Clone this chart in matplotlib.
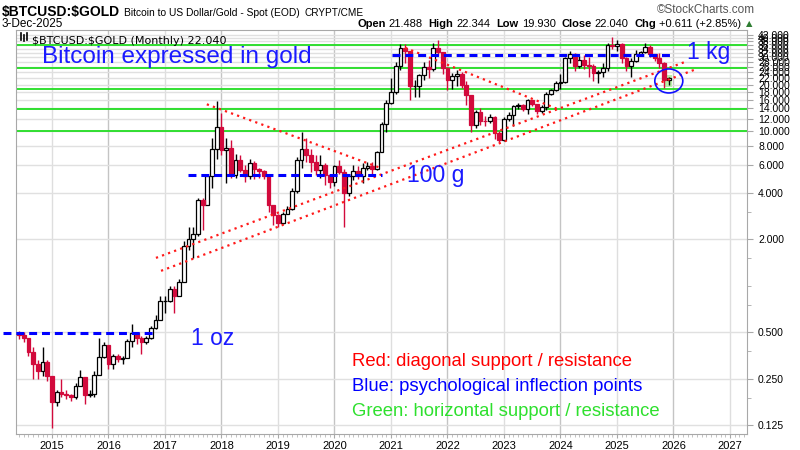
import matplotlib
matplotlib.use("Agg")
import matplotlib.pyplot as plt
import matplotlib.patches as mpatches
import matplotlib.transforms as mtransforms
import matplotlib.ticker as mticker
import numpy as np

plt.rcParams['font.family'] = ['Liberation Sans', 'DejaVu Sans']
plt.rcParams['text.parse_math'] = False  # the "$" in ticker names is literal

# monthly candles of BTC priced in ounces of gold, Jun 2014 .. Dec 2025
first_month = (2014, 6)
first_open = 0.485
close = [0.475, 0.455, 0.37, 0.31, 0.28, 0.32, 0.26,                            # 2014
         0.175, 0.205, 0.20, 0.195, 0.19, 0.225, 0.255, 0.195, 0.20, 0.265, 0.345, 0.41,  # 2015
         0.31, 0.35, 0.335, 0.34, 0.44, 0.49, 0.46, 0.43, 0.46, 0.53, 0.60, 0.80,   # 2016
         0.80, 0.95, 0.86, 1.06, 1.80, 2.0, 2.16, 3.58, 3.30, 5.1, 7.7, 10.6,       # 2017
         7.5, 7.8, 5.2, 6.5, 5.6, 5.1, 6.2, 5.7, 5.5, 5.1, 3.3, 2.87,               # 2018
         2.55, 2.9, 3.15, 4.1, 6.5, 7.6, 7.0, 6.3, 5.6, 6.0, 5.2, 4.7,              # 2019
         5.9, 5.4, 4.0, 5.1, 5.5, 5.1, 5.75, 5.9, 5.7, 7.3, 11.1, 15.3,             # 2020
         17.9, 26.5, 34.5, 33.0, 19.7, 19.7, 22.9, 26.0, 25.1, 34.4, 32.3, 25.5,    # 2021
         21.4, 22.6, 23.5, 19.9, 17.0, 11.0, 13.2, 11.7, 11.6, 12.4, 9.7, 8.8,      # 2022
         12.0, 12.7, 14.5, 14.7, 13.9, 15.9, 14.9, 13.4, 14.4, 17.5, 18.5, 20.5,    # 2023
         20.9, 29.9, 31.7, 26.5, 29.0, 26.9, 26.4, 23.6, 24.0, 25.6, 36.3, 35.6,    # 2024
         36.6, 29.5, 26.4, 28.6, 31.6, 32.4, 35.2, 31.4, 29.5, 27.4, 21.43, 22.04]  # 2025
high = [0.51, 0.50, 0.46, 0.40, 0.33, 0.40, 0.33,
        0.26, 0.21, 0.25, 0.21, 0.20, 0.235, 0.285, 0.25, 0.21, 0.28, 0.46, 0.43,
        0.41, 0.36, 0.36, 0.35, 0.45, 0.56, 0.50, 0.47, 0.47, 0.55, 0.64, 0.85,
        0.86, 1.0, 1.0, 1.1, 1.95, 2.4, 2.4, 3.7, 3.7, 5.2, 9.0, 15.6,
        13.0, 9.0, 8.8, 7.1, 7.0, 6.0, 6.6, 6.4, 5.8, 5.6, 5.3, 3.3,
        2.9, 3.0, 3.25, 4.3, 6.8, 9.8, 9.0, 7.6, 7.0, 7.0, 6.2, 5.2,
        6.0, 6.5, 5.7, 5.3, 6.0, 5.9, 6.2, 6.3, 6.3, 7.4, 11.5, 15.8,
        22.0, 28.0, 36.5, 36.7, 32.5, 21.5, 23.5, 28.0, 29.0, 37.0, 38.6, 32.0,
        26.0, 23.8, 25.0, 24.0, 21.0, 17.0, 13.6, 14.0, 12.5, 12.8, 12.5, 10.0,
        12.4, 13.3, 14.7, 15.3, 15.0, 16.2, 16.0, 15.0, 14.7, 18.0, 18.8, 21.2,
        23.5, 30.0, 33.0, 32.0, 30.5, 31.0, 30.0, 27.0, 25.0, 27.5, 37.0, 40.8,
        39.0, 37.0, 30.0, 29.5, 33.5, 33.0, 37.0, 36.0, 31.5, 32.0, 28.0, 22.344]
low = [0.45, 0.43, 0.35, 0.25, 0.25, 0.26, 0.24,
       0.12, 0.165, 0.19, 0.185, 0.18, 0.185, 0.23, 0.17, 0.19, 0.19, 0.27, 0.34,
       0.29, 0.29, 0.32, 0.31, 0.34, 0.40, 0.42, 0.36, 0.42, 0.45, 0.52, 0.60,
       0.66, 0.78, 0.66, 0.85, 1.05, 1.7, 1.5, 2.1, 2.3, 3.3, 4.3, 6.6,
       7.0, 4.6, 5.0, 5.0, 5.4, 4.7, 4.9, 4.9, 5.0, 4.9, 3.0, 2.45,
       2.4, 2.5, 2.9, 3.1, 4.0, 5.8, 6.3, 5.4, 5.2, 5.0, 4.5, 4.3,
       4.4, 5.3, 2.4, 3.8, 4.8, 4.9, 4.6, 5.6, 5.3, 5.6, 7.3, 9.8,
       15.0, 17.5, 25.0, 27.5, 16.0, 16.5, 16.5, 21.5, 22.0, 24.5, 30.5, 23.5,
       18.5, 18.8, 19.5, 19.0, 14.8, 9.8, 10.5, 11.0, 10.8, 11.3, 8.9, 8.5,
       8.6, 11.7, 10.8, 13.9, 13.5, 12.9, 14.5, 12.8, 13.0, 13.7, 17.0, 18.3,
       18.8, 20.5, 27.5, 24.5, 25.5, 25.2, 22.5, 21.0, 20.5, 22.5, 24.5, 34.0,
       33.0, 27.5, 24.5, 22.5, 28.0, 30.5, 32.0, 30.0, 28.5, 25.5, 19.0, 19.93]

year_ticks = list(range(2015, 2028))
price_ticks = [0.125, 0.25, 0.5, 2, 4, 6, 8, 10, 12, 14, 16, 18, 20, 22, 24,
               26, 28, 30, 32, 34, 36, 38, 40, 42]
minor_price_ticks = [0.1875, 0.375, 0.75, 1, 1.5, 3]

# drawn annotations (year, value)
green_levels = [36.1, 25.5, 18.6, 13.9, 10.0]
red_trends = [((2017.74, 14.9), (2020.80, 5.8)),
              ((2021.25, 34.6), (2023.99, 13.7)),
              ((2016.84, 1.51), (2026.19, 27.9)),
              ((2016.93, 1.245), (2026.38, 25.0))]
blue_levels = [(2014.13, 2016.82, 0.49), (2017.41, 2020.84, 5.2), (2021.02, 2025.99, 31.3)]
circle_at = (2025.917, 21.1)
highlight = (2025.917, 19.3, 23.1)

quote = [('Open', '21.488'), ('High', '22.344'), ('Low', '19.930'),
         ('Close', '22.040'), ('Chg', '+0.611 (+2.85%)')]

RED = '#d20a3c'
W, H = 800, 450

def px(x, y):
    return x / W, 1 - y / H

fig = plt.figure(figsize=(8, 4.5), dpi=100)
ax = fig.add_axes([16 / W, 16 / H, 731 / W, 404 / H])
ax.set_yscale('log')
ax.set_xlim(2014.363, 2027.301)
ax.set_ylim(0.1094, 45.1)

# grid
for yr in year_ticks:
    ax.axvline(yr, color='#c4c4c4' if yr % 2 == 0 else '#dedede', lw=1, zorder=0)
for p in price_ticks:
    ax.axhline(p, color='#e0e0e0', lw=1, zorder=0)

for lvl in green_levels:
    ax.axhline(lvl, color='#22dd22', lw=1.3, zorder=1)

# candles
n = len(close)
t = first_month[0] + (first_month[1] - 1 + np.arange(n)) / 12
cl = np.array(close)
op = np.array([first_open] + close[:-1])
hi = np.array(high)
lo = np.array(low)
up = cl >= op
bot = np.minimum(op, cl)
top = np.maximum(op, cl)
w = 0.8 / 12

hx, hlo, hhi = highlight
ax.add_patch(mpatches.Rectangle((hx - 0.06, hlo), 0.12, hhi - hlo,
                                facecolor='#b8f0a8', edgecolor='none', zorder=2))

ax.vlines(t[up], lo[up], hi[up], color='black', lw=1, zorder=3)
ax.vlines(t[~up], lo[~up], hi[~up], color=RED, lw=1, zorder=3)
ax.bar(t[up], top[up] - bot[up], bottom=bot[up], width=w, facecolor='white',
       edgecolor='black', lw=0.9, zorder=4)
ax.bar(t[~up], top[~up] - bot[~up], bottom=bot[~up], width=w, facecolor=RED,
       edgecolor=RED, lw=0.9, zorder=4)

# annotations
for (x0, y0), (x1, y1) in red_trends:
    ax.plot([x0, x1], [y0, y1], color='#ff1a1a', lw=1.6, ls=(0, (1, 1.9)), zorder=5)
for x0, x1, lvl in blue_levels:
    ax.plot([x0, x1], [lvl, lvl], color='#0000ff', lw=2.2, ls=(0, (2.6, 1.6)),
            zorder=5, clip_on=False)

cx, cy = circle_at
trans = fig.dpi_scale_trans + mtransforms.ScaledTranslation(cx, cy, ax.transData)
ax.add_patch(mpatches.Ellipse((0, 0), 0.28, 0.24, transform=trans, fill=False,
                              edgecolor='#1010ff', lw=1.2, zorder=6))

# axes styling
for s in ax.spines.values():
    s.set_color('#a8a8a8')
ax.set_xticks(year_ticks)
ax.set_xticklabels([str(y) for y in year_ticks])
ax.xaxis.set_minor_locator(mticker.MultipleLocator(1 / 12))
ax.tick_params(axis='x', which='major', length=3, color='#a8a8a8', labelsize=8, pad=2)
ax.tick_params(axis='x', which='minor', length=2, color='#b8b8b8')
ax.yaxis.tick_right()
ax.set_yticks(price_ticks)
ax.set_yticklabels(['%.3f' % p for p in price_ticks])
ax.yaxis.set_minor_locator(mticker.FixedLocator(minor_price_ticks))
ax.yaxis.set_minor_formatter(mticker.NullFormatter())
ax.tick_params(axis='y', which='major', length=4, color='#a8a8a8', labelsize=7.5, pad=4)
ax.tick_params(axis='y', which='minor', length=3, color='#a8a8a8')

# in-plot label
ax.text(0.022, 0.985, '$BTCUSD:$GOLD (Monthly) 22.040', transform=ax.transAxes,
        ha='left', va='top', fontsize=8, family='DejaVu Sans', zorder=7)
for dx, y0, y1 in [(21, 33, 40), (24, 35, 41), (27, 33, 40)]:
    fig.add_artist(plt.Line2D([dx / W, dx / W], [1 - y0 / H, 1 - y1 / H], color='black', lw=1.2))

# big texts
fig.text(*px(42, 63), 'Bitcoin expressed in gold', color='#1a1aff', fontsize=17.5, va='baseline')
fig.text(*px(687, 59), '1 kg', color='#1a1aff', fontsize=16.5, va='baseline')
fig.text(*px(407, 182), '100 g', color='#1a1aff', fontsize=16.5, va='baseline')
fig.text(*px(191, 345), '1 oz', color='#1a1aff', fontsize=16.5, va='baseline')
fig.text(*px(352, 366), 'Red: diagonal support / resistance', color='#ff0000', fontsize=13.3, va='baseline')
fig.text(*px(352, 391), 'Blue: psychological inflection points', color='#0000ff', fontsize=13.3, va='baseline')
fig.text(*px(352, 416), 'Green: horizontal support / resistance', color='#2ee02e', fontsize=13.3, va='baseline')

# header
renderer = fig.canvas.get_renderer()
x = 2
for s, size, weight, gap in [('$BTCUSD:$GOLD', 10, 'bold', 4),
                             ('Bitcoin to US Dollar/Gold - Spot (EOD)', 7.4, 'normal', 5),
                             ('CRYPT/CME', 7.2, 'normal', 0)]:
    txt = fig.text(*px(x, 16), s, fontsize=size, weight=weight, va='baseline')
    x += txt.get_window_extent(renderer).width + gap
fig.text(*px(2, 27), '3-Dec-2025', fontsize=8.5, va='baseline')
fig.text(*px(657, 13), '\u00a9StockCharts.com', fontsize=8.5, color='#555555', va='baseline')

x = 357
for label, value in quote:
    t1 = fig.text(*px(x, 27), label, fontsize=8, weight='bold', va='baseline')
    x += t1.get_window_extent(renderer).width + 3
    t2 = fig.text(*px(x, 27), value, fontsize=8, va='baseline')
    x += t2.get_window_extent(renderer).width + 6
fig.text(*px(x - 2, 26), '\u25b2', fontsize=6, color='#2e7d32', family='DejaVu Sans', va='baseline')

fig.savefig('out.png', dpi=100)
